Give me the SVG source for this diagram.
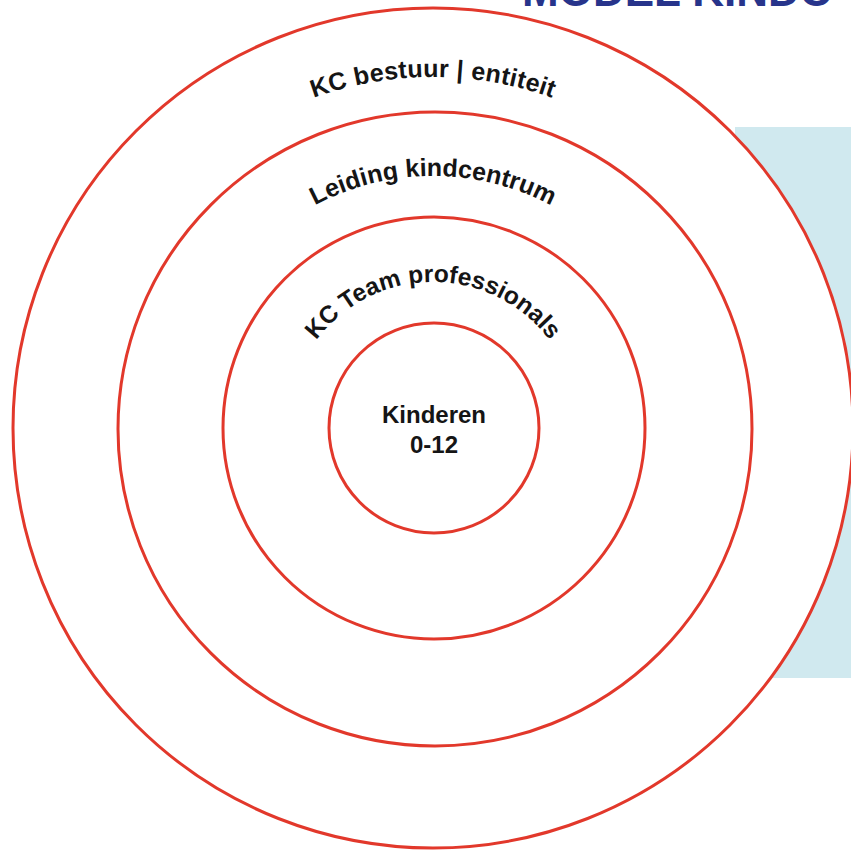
<svg xmlns="http://www.w3.org/2000/svg" xmlns:xlink="http://www.w3.org/1999/xlink" width="851" height="851" viewBox="0 0 851 851">
<style>
.ring{fill:none;stroke:#e2382b;stroke-width:3}
.lbl{font-family:"Liberation Sans",Arial,sans-serif;font-weight:bold;font-size:25px;fill:#151515}
.ctr{font-family:"Liberation Sans",Arial,sans-serif;font-weight:bold;font-size:24px;fill:#151515;text-anchor:middle}
</style>
<defs>
<path id="a1" d="M82,428 A351,351 0 0 1 784,428"/>
<path id="a2" d="M181,428 A252,252 0 0 1 685,428"/>
<path id="a3" d="M287,428 A146,146 0 0 1 579,428"/>
</defs>
<rect x="0" y="0" width="851" height="851" fill="#ffffff"/>
<rect x="735" y="127" width="116" height="551" fill="#d0e9ef"/>
<text x="522" y="6" font-family="Liberation Sans,Arial,sans-serif" font-weight="bold" font-size="44" fill="#27348b">MODEL KINDC</text>
<g id="ring-bestuur">
<circle class="ring" cx="433" cy="428" r="420" style="fill:#ffffff"/>
<text class="lbl"><textPath xlink:href="#a1" href="#a1" startOffset="50%" text-anchor="middle" letter-spacing="0.3">KC bestuur | entiteit</textPath></text>
</g>
<g id="ring-leiding">
<circle class="ring" cx="435" cy="429" r="317"/>
<text class="lbl"><textPath xlink:href="#a2" href="#a2" startOffset="50%" text-anchor="middle">Leiding kindcentrum</textPath></text>
</g>
<g id="ring-team">
<circle class="ring" cx="434" cy="428" r="211"/>
<text class="lbl" style="font-size:24.5px"><textPath xlink:href="#a3" href="#a3" startOffset="50%" text-anchor="middle">KC Team professionals</textPath></text>
</g>
<g id="kinderen">
<circle class="ring" cx="434" cy="428" r="105"/>
<text class="ctr" x="434" y="423" font-size="25">Kinderen</text>
<text class="ctr" x="434" y="453" font-size="25">0-12</text>
</g>
<g id="connectors"/>
</svg>
